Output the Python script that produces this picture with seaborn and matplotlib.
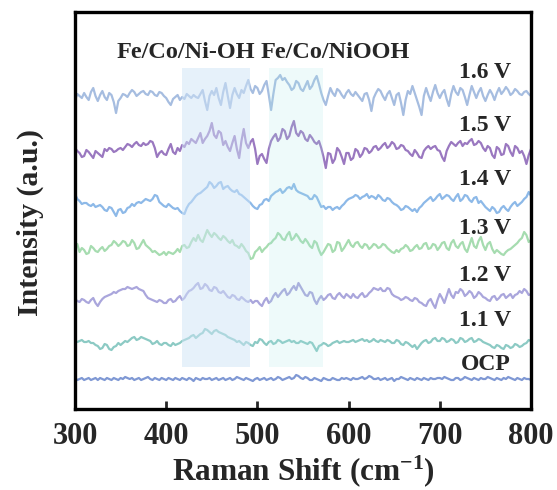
import numpy as np
import pandas as pd
import matplotlib
matplotlib.use("Agg")
import matplotlib.pyplot as plt
import seaborn as sns

# ---------------- data (relative intensity, 2.5 cm-1 steps) ----------------
labels = ["1.6 V", "1.5 V", "1.4 V", "1.3 V", "1.2 V", "1.1 V", "OCP"]
colors = ["#a6bde0", "#9a78c0", "#8db9e8", "#a6dcb0", "#aaa6dc", "#8ccac4", "#7f98d4"]
offsets = [311, 258, 205, 159, 108, 66, 30]
label_y = [337, 284, 230, 181, 134, 89, 45]

s16 = [-2, 4, 2, 0, 5, 1, -2, 6, 10, 2, -3, 3, 7, 1, -2, 5, 3, -4, -15, -3, 0, 4, 3, 1, 5, 8, 6, 2, 4, 6, 7, 4, 3, 7, 6, 3, 2, 6, 5, 2,
       0, -4, -7, -1, 1, 3, -2, 1, -1, 4, 2, 0, 3, 1, 0, 4, 8, -3, -12, 2, 7, 3, 10, 0, -7, 6, 15, 2, -10, 3, 10, 4, 0, 8, 5, 12, 18, 9, 5, 12,
       10, 4, 7, 13, 17, 3, -12, 4, 18, 20, 23, 18, 20, 16, 13, 8, 10, 17, 15, 9, 7, 12, 17, 9, 12, 18, 22, 14, 5, -2, -7, 2, 10, 5, 2, 9, 7, 3, 0, 5,
       8, 4, 2, 6, 3, 0, -3, 4, 5, -2, -13, 0, 5, 9, 7, 2, -2, 4, 7, 0, -7, 3, 5, -5, -17, -2, 7, 4, 12, 5, -2, -9, -17, 2, 10, 3, -3, 6, 13, 5,
       0, 5, 8, -1, -8, 4, 12, 6, 3, 10, 8, 1, -7, 3, 12, 6, 0, 6, 10, 2, -3, 3, 8, 4, -2, 5, 10, 4, 7, 11, 8, 3, 5, 9, 7, 4, 3, 6, 7, 4, 2]
s15 = [3, 0, -2, -6, -5, 1, -1, -4, -7, 0, -2, -4, -6, 2, 0, 3, 2, -1, 0, 2, 3, 1, 4, 7, 6, 4, 7, 9, 6, 5, 8, 6, 7, 10, 9, 3, -6, -2, 0, -3,
       -4, 2, 7, -1, -3, 3, 0, 6, 4, 9, 7, 12, 10, 8, 13, 18, 8, 12, 15, 20, 28, 16, 13, 20, 18, 6, 10, 4, 0, 8, 15, 2, -7, 10, 22, 8, 3, 9, 12, 2,
       -13, -5, -3, -8, -12, 2, 10, 14, 17, 10, 13, 22, 20, 12, 15, 24, 30, 18, 15, 20, 18, 12, 10, 16, 13, 9, 7, 10, 3, -6, -17, -2, -3, -12, -8, 3, 0, -6, -13, -2,
       -2, -9, -7, 2, 0, -6, -3, 3, 2, -2, 0, 4, 5, 1, 3, 6, 8, 3, 5, 9, 7, 2, 3, 6, 5, 1, 0, -3, -5, 1, -2, -6, -7, 0, 3, 5, 2, 4, 5, 1,
       0, -6, -10, 0, 5, 9, 7, 5, 8, 10, 5, 8, 7, 10, 12, 6, 7, 10, 8, 3, 0, 5, 3, -4, -7, 4, 2, -4, -3, 7, 5, -1, -5, 5, 3, -2, 0, -5, -13, -4, 2]
s14 = [10, 5, 3, 0, 1, 1, -1, -2, 0, -3, -2, -1, -3, -6, -7, -3, -4, -8, -12, -6, -5, -9, -8, -4, -3, 0, -2, 1, 2, 1, 3, 5, 4, 3, 5, 9, 8, 2, 0, -2,
       -3, 0, -2, -4, -5, -4, -7, -9, -10, -4, 0, 2, 5, 8, 10, 11, 13, 15, 17, 22, 20, 16, 18, 21, 22, 15, 17, 18, 15, 13, 12, 14, 10, 9, 7, 5, 3, 1, -2, -4,
       -5, -1, 0, 4, 5, 3, 8, 10, 12, 13, 15, 11, 13, 16, 17, 15, 20, 14, 12, 11, 10, 9, 8, 5, 5, 9, 7, 2, -3, -2, -5, -3, -3, -6, -4, -3, -5, -2, 0, 3,
       5, 6, 7, 9, 8, 5, 7, 8, 10, 6, 8, 7, 5, 9, 7, 4, 3, 6, 5, 2, 0, -1, -3, -6, -5, -2, -3, -5, -7, -5, -8, -4, -2, 1, 3, 5, 7, 3, 5, 8,
       10, 5, 7, 9, 8, 5, 3, 7, 10, 3, 5, 9, 8, 4, 2, 6, 7, 1, 3, 0, -3, -5, -7, -3, -5, -9, -8, -4, -2, -5, -7, -3, 0, 2, -2, 0, 2, 5, 7, 12, 8]
s13 = [3, 6, -2, 2, 0, -4, -3, 4, 2, -1, -2, 1, 3, -1, 1, 4, 5, 9, 7, 4, 6, 9, 8, 4, 5, 10, 7, 1, 2, 6, 10, 5, 3, 1, -2, -1, -3, -5, -4, -2,
       -5, -2, -3, -4, -2, 1, -2, 4, 5, 2, 3, 8, 12, 9, 15, 10, 8, 14, 20, 16, 13, 17, 15, 12, 10, 14, 12, 9, 7, 10, 5, 4, 2, 6, 3, -1, -3, -9, -8, -2,
       0, 3, -2, 1, 3, 6, 7, 10, 12, 17, 15, 11, 10, 15, 18, 10, 12, 16, 13, 9, 7, 11, 8, 4, 2, 9, 7, 0, -5, -2, 2, 6, 5, -2, 0, 8, 7, -1, 2, 6,
       10, 5, 3, 7, 8, 4, 2, 6, 5, 1, 3, 6, 5, 2, 3, 6, 5, 2, 0, -2, -3, 0, -2, 1, 2, 5, 3, -1, 0, 3, 5, 1, 2, 6, 7, 1, 2, 6, 5, 0,
       3, 7, 8, 2, 0, 7, 10, 4, 2, 6, 8, 1, -2, 5, 12, 4, 2, 9, 13, 5, 0, 6, 8, 1, -3, 0, -2, -4, -5, -2, 0, 1, 3, 5, 7, 10, 12, 18, 15, 8, 10]
s12 = [2, 0, -1, 2, 1, -1, -2, 1, 3, -2, -5, -1, 2, 4, 5, 6, 7, 9, 8, 10, 11, 12, 12, 14, 13, 12, 13, 14, 12, 11, 10, 6, 3, 2, 1, 0, -1, 1, 0, -2,
       -2, 1, 2, -1, 0, 3, 5, 1, 3, 7, 10, 11, 13, 16, 18, 12, 13, 17, 15, 11, 10, 14, 13, 9, 8, 10, 7, 4, 3, 6, 5, 2, 1, 4, 2, 0, -1, 1, -2, 0,
       0, -3, -5, 0, 3, -2, 0, 5, 8, 4, 7, 10, 12, 6, 8, 12, 15, 11, 18, 14, 10, 6, 5, 9, 8, 1, -3, 2, 5, 1, 3, 6, 7, 3, 2, 6, 8, 5, 3, 7,
       5, 3, 7, 4, 3, 6, 8, 4, 5, 8, 10, 13, 12, 11, 13, 10, 10, 13, 12, 7, 5, 4, 3, 1, 2, 4, 3, 1, 0, 3, 2, -1, -2, -4, -5, 0, 2, -3, -7, 1,
       7, 3, -2, 5, 12, 6, 3, 9, 8, 12, 10, 5, 7, 10, 8, 3, 5, 9, 7, 4, 3, 1, 0, 4, 5, 1, 3, 6, 7, 3, 5, 7, 3, 6, 7, 10, 8, 12, 10, 6, 7]
s11 = [2, 1, 2, 3, 1, 1, 2, 0, 0, -2, -3, -6, -5, -1, -2, -6, -7, -4, -3, 0, -2, 0, 2, 1, 3, 5, 6, 3, 4, 6, 5, 4, 3, 2, -1, 0, 2, -1, -2, 0,
       0, -2, -3, 0, -2, -1, 0, 2, 3, 4, 5, 7, 8, 5, 7, 9, 10, 14, 13, 11, 9, 12, 13, 11, 10, 9, 8, 6, 5, 4, 3, 1, 2, 0, -2, 1, 0, -2, -3, 1,
       0, 4, 3, 0, -2, 1, 2, -1, 0, 3, 2, 0, 1, 2, 3, 1, 2, 0, 0, 2, 1, 0, -1, 1, 0, -4, -8, -3, -2, 0, -1, -3, -2, 0, 1, 2, 0, 1, 2, 1,
       1, 2, 3, 1, 2, 3, 4, 2, 3, 1, 2, 4, 2, 1, 3, 2, 1, 3, 2, 0, 0, 3, 2, -1, -2, 1, 0, -2, -4, -2, -6, -3, 0, 2, 3, 0, 1, 4, 5, 2,
       2, 5, 4, 1, 2, 4, 3, 0, 1, 5, 4, 1, 2, 4, 5, 1, 2, 4, 3, 1, 0, -1, -2, -4, -5, -2, -3, -5, -6, -2, -3, -5, -4, -1, -2, -4, -3, -1, 0, 3, 2]
s_ocp = [1, -1, 0, 1, -1, 0, 1, -1, 0, 1, -1, 1, 0, -1, 1, 0, -1, 1, 0, -1, 1, 0, 2, 1, 0, 1, -1, 0, 1, -1, 0, 1, 2, 0, -1, 1, 0, -1, 1, 0,
         -1, 1, 0, -1, 1, 0, -1, 1, 0, -1, 1, 0, -2, 1, 0, -1, 1, 0, 0, 1, -1, 0, 1, -1, 0, 1, -1, 0, 1, -1, 0, 2, 1, 0, -1, 1, 0, -1, -2, 0,
         1, -1, 0, 1, -1, 0, 1, -1, 0, 2, 1, -1, 0, 1, 2, 0, 1, 4, 3, 1, 0, 2, 1, -1, -1, 1, 0, -1, -2, 1, 0, -1, -1, 1, 0, -1, -1, 1, 0, 1,
         0, -1, 1, 0, 0, 1, 2, 0, 1, 3, 2, 0, 0, 1, -1, 0, 1, -1, 0, 1, -2, 0, 0, 2, 1, 0, -1, 1, 0, -1, 1, 0, -1, 1, 0, -1, 1, 0, 0, 1,
         1, 0, 2, 1, 0, -1, -1, 1, 1, -1, 0, 2, 1, 0, -1, 1, 0, -1, 1, 0, 0, 2, 1, 0, -1, 1, 0, -1, 1, 0, 2, 1, 0, -1, 1, 0, -1, 1, 0, 0, -1]
series = [s16, s15, s14, s13, s12, s11, s_ocp]

x_min, x_max = 300, 800
x_ticks = [300, 400, 500, 600, 700, 800]
band_lo = [417, 513]
band_hi = [492, 572]
band_colors = ["#cfe4f7", "#aae6e6"]
band_alpha = [0.5, 0.2]
band_names = ["Fe/Co/Ni-OH", "Fe/Co/NiOOH"]
band_name_x = [421, 585]

# ---------------- style ----------------
sns.set_style("white")
plt.rcParams["font.family"] = ["Liberation Serif", "DejaVu Serif"]
plt.rcParams["font.weight"] = "bold"
plt.rcParams["mathtext.fontset"] = "custom"
plt.rcParams["mathtext.rm"] = "Liberation Serif:bold"
plt.rcParams["mathtext.bf"] = "Liberation Serif:bold"
plt.rcParams["mathtext.it"] = "Liberation Serif:bold:italic"
plt.rcParams["mathtext.default"] = "rm"

fig = plt.figure(figsize=(5.57, 4.90), dpi=100)
ax = fig.add_axes([75 / 557, 81 / 490, 456 / 557, 397 / 490])

rows = []
for lab, s, off in zip(labels, series, offsets):
    xs = np.linspace(x_min, x_max, len(s))
    for xv, yv in zip(xs, s):
        rows.append({"shift": xv, "intensity": yv + off, "series": lab})
df = pd.DataFrame(rows)

sns.lineplot(data=df, x="shift", y="intensity", hue="series", hue_order=labels,
             palette=colors, linewidth=1.6, legend=False, ax=ax, estimator=None,
             sort=True, zorder=2)

for lo, hi, c, a in zip(band_lo, band_hi, band_colors, band_alpha):
    ax.axvspan(lo, hi, ymin=42 / 397, ymax=341 / 397, color=c, alpha=a,
               lw=0, zorder=3)

for nx, txt in zip(band_name_x, band_names):
    ax.text(nx, 357, txt, ha="center", va="center", fontsize=17.5,
            fontweight="bold")
for lab, ly in zip(labels, label_y):
    ax.text(778, ly, lab, ha="right", va="center", fontsize=17,
            fontweight="bold")

ax.set_xlim(x_min, x_max)
ax.set_ylim(0, 397)
ax.set_xticks(x_ticks)
ax.set_xticklabels([str(t) for t in x_ticks], fontsize=22, fontweight="bold")
ax.set_yticks([])
ax.tick_params(axis="x", direction="in", length=6, width=2, pad=9, bottom=True)
ax.set_xlabel(r"Raman Shift (cm$^{-1}$)", fontsize=22.5, fontweight="bold")
ax.xaxis.set_label_coords(0.5, -0.112)
ax.set_ylabel("Intensity (a.u.)", fontsize=21.5, fontweight="bold")
ax.yaxis.set_label_coords(-0.068, 0.47)
for sp in ax.spines.values():
    sp.set_linewidth(2.4)
    sp.set_color("black")
    sp.set_visible(True)

fig.savefig("out.png", dpi=100)
